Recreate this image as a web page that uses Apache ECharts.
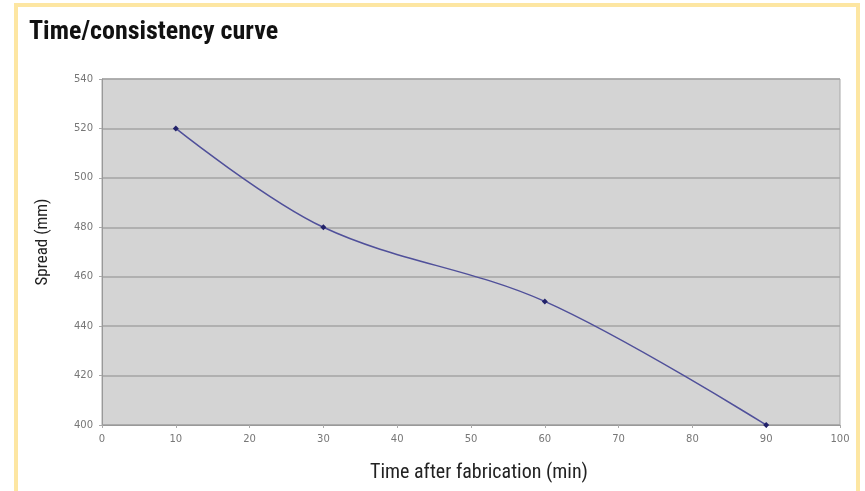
<!DOCTYPE html>
<html>
<head>
<meta charset="utf-8">
<script src="https://cdn.jsdelivr.net/npm/echarts@6/dist/echarts.min.js"></script>
<style>
html,body{margin:0;padding:0;background:#fff;}
#frame{position:absolute;left:14px;top:3px;width:838px;height:500px;border:4px solid #fde6a2;border-bottom:none;}
#chart{position:absolute;left:0;top:0;width:865px;height:491px;}
</style>
</head>
<body>
<div id="frame"></div>
<div id="chart"></div>
<script>
const xValues = [10, 30, 60, 90];
const spreadValues = [520, 480, 450, 400];
const yTicks = [400, 420, 440, 460, 480, 500, 520, 540];
const xTicks = [0, 10, 20, 30, 40, 50, 60, 70, 80, 90, 100];

const chart = echarts.init(document.getElementById('chart'), null, {renderer: 'canvas'});
const cond = '"Liberation Sans Narrow", "Arial Narrow", "Roboto Condensed", sans-serif';
chart.setOption({
  animation: false,
  title: {
    text: 'Time/consistency curve',
    left: 24, top: 14,
    textStyle: {fontFamily: cond, fontWeight: 'bold', fontSize: 26, color: '#111'}
  },
  grid: {left: 102, right: 25, top: 79, bottom: 66, containLabel: false,
         show: true, backgroundColor: '#d4d4d4', borderColor: '#a8a8a8', borderWidth: 1},
  xAxis: {
    type: 'value', min: 0, max: 100, interval: 10,
    name: 'Time after fabrication (min)', nameLocation: 'middle', nameGap: 38,
    nameTextStyle: {fontFamily: cond, fontSize: 20, color: '#222', padding: [0, 0, 0, 16]},
    axisLine: {show: true, lineStyle: {color: '#999', width: 1}},
    axisTick: {show: true, length: 3, lineStyle: {color: '#aaa'}},
    splitLine: {show: false},
    axisLabel: {color: '#777', fontSize: 10, fontFamily: 'DejaVu Sans', margin: 9,
                formatter: v => xTicks.includes(v) ? String(v) : ''}
  },
  yAxis: {
    type: 'value', min: 400, max: 540, interval: 20,
    name: 'Spread (mm)', nameLocation: 'middle', nameGap: 51, nameRotate: 90,
    nameTextStyle: {fontFamily: cond, fontSize: 17, color: '#222', padding: [0, 0, 0, 20]},
    axisLine: {show: true, lineStyle: {color: '#999', width: 1}},
    axisTick: {show: true, length: 3, lineStyle: {color: '#aaa'}},
    splitLine: {show: true, lineStyle: {color: '#a4a4a4', width: 1.5}},
    axisLabel: {color: '#777', fontSize: 10, fontFamily: 'DejaVu Sans', margin: 9,
                formatter: v => yTicks.includes(v) ? String(v) : ''}
  },
  series: [{
    type: 'line',
    data: xValues.map((x, i) => [x, spreadValues[i]]),
    smooth: 0.35,
    symbol: 'diamond', symbolSize: 6,
    itemStyle: {color: '#22226a'},
    lineStyle: {color: '#50509a', width: 1.5}
  }]
});
</script>
</body>
</html>
